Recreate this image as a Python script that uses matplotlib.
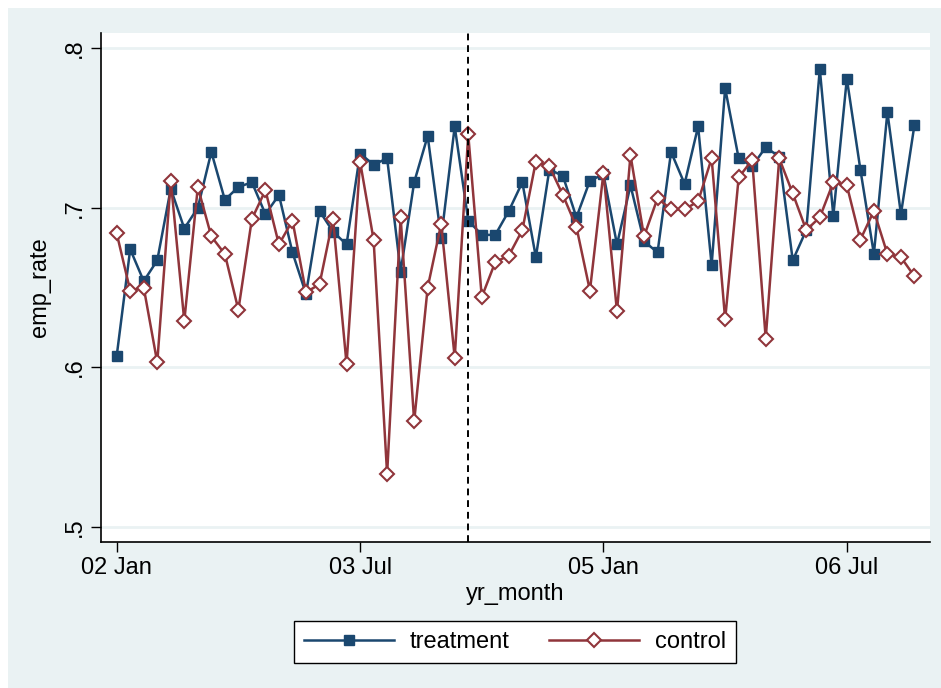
import numpy as np
import pandas as pd
import matplotlib
matplotlib.use("Agg")
import matplotlib.pyplot as plt
from matplotlib.patches import Rectangle

plt.rcParams['font.family'] = ['Liberation Sans', 'DejaVu Sans']

# monthly periods 2002m1 .. 2006m12
yr_month = pd.period_range('2002-01', periods=60, freq='M')

treatment = [0.607, 0.674, 0.654, 0.667, 0.712, 0.687, 0.700, 0.735, 0.705, 0.713,
             0.716, 0.696, 0.708, 0.672, 0.646, 0.698, 0.685, 0.677, 0.734, 0.727,
             0.731, 0.660, 0.716, 0.745, 0.681, 0.751, 0.692, 0.683, 0.683, 0.698,
             0.716, 0.669, 0.724, 0.720, 0.694, 0.717, 0.721, 0.677, 0.714, 0.679,
             0.672, 0.735, 0.715, 0.751, 0.664, 0.775, 0.731, 0.726, 0.738, 0.732,
             0.667, 0.686, 0.787, 0.695, 0.781, 0.724, 0.671, 0.760, 0.696, 0.752]

control = [0.684, 0.648, 0.650, 0.603, 0.717, 0.629, 0.713, 0.682, 0.671, 0.636,
           0.693, 0.711, 0.677, 0.692, 0.647, 0.652, 0.693, 0.602, 0.729, 0.680,
           0.533, 0.694, 0.566, 0.650, 0.690, 0.606, 0.746, 0.644, 0.666, 0.670,
           0.686, 0.729, 0.726, 0.708, 0.688, 0.648, 0.722, 0.635, 0.733, 0.682,
           0.706, 0.699, 0.699, 0.704, 0.731, 0.630, 0.719, 0.730, 0.618, 0.731,
           0.709, 0.686, 0.694, 0.716, 0.714, 0.680, 0.698, 0.671, 0.669, 0.657]

xtick_periods = ['2002-01', '2003-07', '2005-01', '2006-07']
xtick_labels = ['02 Jan', '03 Jul', '05 Jan', '06 Jul']
ytick_values = [0.5, 0.6, 0.7, 0.8]
ytick_labels = ['.5', '.6', '.7', '.8']
treat_start = '2004-03'

base = yr_month[0]
def mnum(p):
    return (pd.Period(p, freq='M') - base).n

x = np.array([(p - base).n for p in yr_month])

BG = '#EAF2F3'
NAVY = '#1A476F'
MAROON = '#90353B'
FS = 17

fig = plt.figure(figsize=(9.41, 6.88), dpi=100)
fig.patch.set_facecolor('white')
fig.patches.append(Rectangle((8/941, 0), 1, 1 - 8/688, transform=fig.transFigure,
                             facecolor=BG, edgecolor='none', zorder=-10))

ax = fig.add_axes([101/941, 1 - 541.7/688, (930 - 101)/941, (541.7 - 33)/688])
ax.set_facecolor('white')

for yv in ytick_values:
    ax.axhline(yv, color=BG, lw=2, zorder=0)

ax.plot(x, treatment, color=NAVY, lw=1.8, marker='s', ms=7, mfc=NAVY, mec=NAVY,
        label='treatment', zorder=3)
ax.plot(x, control, color=MAROON, lw=1.8, marker='D', ms=7.4, mfc='white', mec=MAROON,
        mew=1.5, label='control', zorder=4)

ax.axvline(mnum(treat_start), color='black', lw=1.4, ls=(0, (3.5, 2.5)), zorder=5)

ax.set_xlim(-1.16, 60.15)
ax.set_ylim(0.4906, 0.8096)

ax.set_xticks([mnum(p) for p in xtick_periods])
ax.set_xticklabels(xtick_labels)
ax.set_yticks(ytick_values)
ax.set_yticklabels(ytick_labels, rotation=90, va='center')

for s in ['top', 'right']:
    ax.spines[s].set_visible(False)
for s in ['left', 'bottom']:
    ax.spines[s].set_linewidth(1.2)
    ax.spines[s].set_color('black')

ax.tick_params(axis='both', direction='out', length=7, width=1, labelsize=FS, pad=4)
ax.set_ylabel('emp_rate', fontsize=FS, labelpad=9)
ax.set_xlabel('yr_month', fontsize=FS, labelpad=3)

leg = fig.legend(loc='center', bbox_to_anchor=(515/941, 1 - 642/688), ncol=2,
                 fontsize=FS, frameon=True, fancybox=False, edgecolor='black',
                 facecolor='white', framealpha=1, handlelength=3.8, handletextpad=0.65,
                 columnspacing=1.7, borderpad=0.42, borderaxespad=0)
leg.get_frame().set_linewidth(1.0)

fig.savefig('out.png', dpi=100, facecolor=fig.get_facecolor())
